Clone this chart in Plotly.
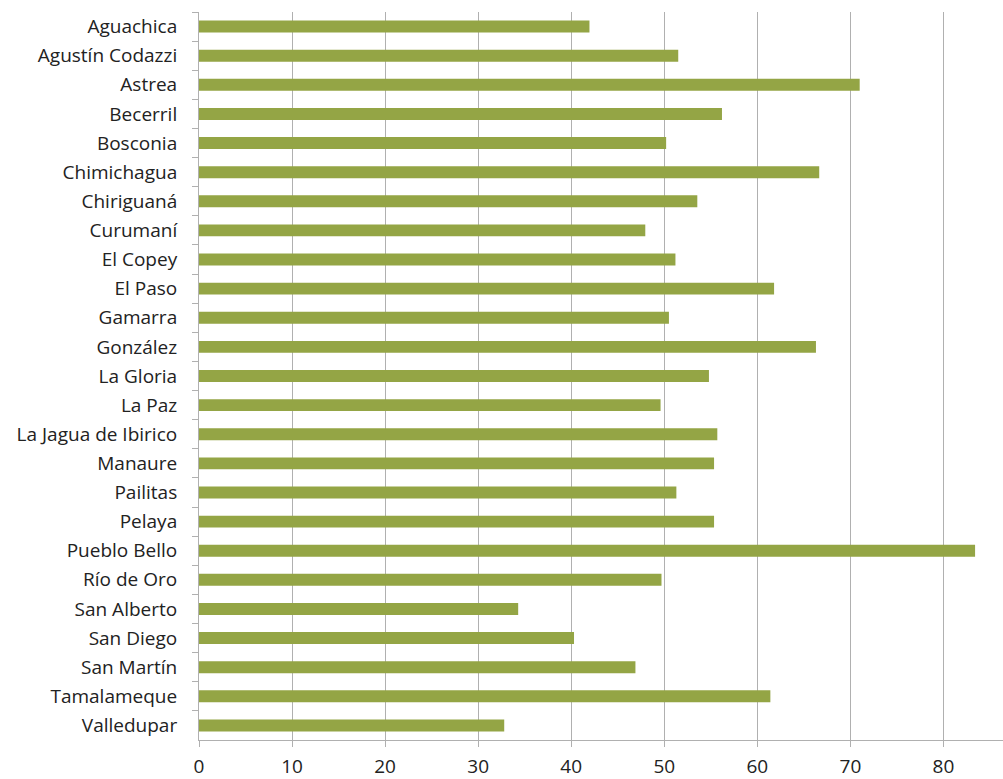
import plotly.graph_objects as go

categories = ["Aguachica", "Agustín Codazzi", "Astrea", "Becerril", "Bosconia",
              "Chimichagua", "Chiriguaná", "Curumaní", "El Copey", "El Paso",
              "Gamarra", "González", "La Gloria", "La Paz", "La Jagua de Ibirico",
              "Manaure", "Pailitas", "Pelaya", "Pueblo Bello", "Río de Oro",
              "San Alberto", "San Diego", "San Martín", "Tamalameque", "Valledupar"]
values = [41.96, 51.5, 71.0, 56.2, 50.2,
          66.65, 53.55, 47.96, 51.2, 61.8,
          50.5, 66.3, 54.8, 49.6, 55.7,
          55.35, 51.3, 55.35, 83.4, 49.7,
          34.3, 40.3, 46.9, 61.4, 32.8]
x_ticks = [0, 10, 20, 30, 40, 50, 60, 70, 80]

fig = go.Figure(go.Bar(
    x=values, y=categories, orientation="h",
    marker=dict(color="#94A545", line=dict(width=0)),
))

fig.update_layout(
    width=1003, height=779,
    margin=dict(l=199, r=0, t=12, b=37),
    plot_bgcolor="white", paper_bgcolor="white",
    bargap=0.59,
    showlegend=False,
    font=dict(family="Open Sans", size=19, color="#222222"),
)
fig.update_xaxes(
    range=[0, 86.4], tickvals=x_ticks,
    showgrid=True, gridcolor="#b0b0b0", gridwidth=1,
    showline=True, linecolor="#b0b0b0", linewidth=1,
    ticks="outside", ticklen=6, tickcolor="#b0b0b0",
    zeroline=False,
    tickfont=dict(size=19),
    ticklabelstandoff=3,
)
fig.update_yaxes(
    categoryorder="array", categoryarray=categories, autorange="reversed",
    showline=True, linecolor="#b0b0b0", linewidth=1,
    ticks="outside", ticklen=6, tickcolor="#b0b0b0",
    tickson="boundaries",
    showgrid=False,
    ticklabelstandoff=17,
)

fig.write_html("out.html", config={"displayModeBar": False},
               post_script="document.body.style.margin='0px';document.body.style.padding='0px';")
